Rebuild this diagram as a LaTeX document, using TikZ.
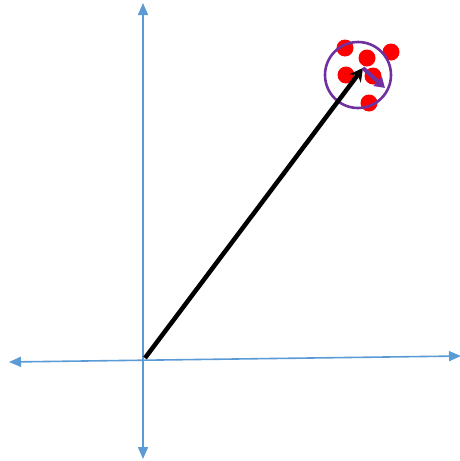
\documentclass[tikz,border=0pt]{standalone}
\usepackage{xcolor}
\usepackage{tikz}
\usetikzlibrary{arrows.meta}
\definecolor{axisblue}{HTML}{5B9BD5}
\definecolor{ringpurple}{HTML}{7030A0}
\begin{document}
\begin{tikzpicture}[x=1pt,y=-1pt,
  axisline/.style={draw=axisblue,line width=1.6pt,{Triangle[width=10pt,length=12pt]}-{Triangle[width=10pt,length=12pt]}},
  sample/.style={circle,fill=red,inner sep=0pt,minimum size=17pt}]
  \useasboundingbox (0,0) rectangle (460,461);
  % axes
  \coordinate (xl) at (9,362);
  \coordinate (xr) at (461,356);
  \coordinate (yt) at (143,3);
  \coordinate (yb) at (143,459);
  \coordinate (origin) at (145,358);
  \draw[axisline] (xl) -- (xr);
  \draw[axisline] (yt) -- (yb);
  % cluster of samples
  \node[sample] (s1) at (345,48) {};
  \node[sample] (s2) at (391,52) {};
  \node[sample] (s3) at (367,58) {};
  \node[sample] (s4) at (346,75) {};
  \node[sample] (s5) at (373,76) {};
  \node[sample] (s6) at (369,103) {};
  \node[draw=ringpurple,line width=2.6pt,circle,minimum size=66pt,inner sep=0pt] (ring) at (358,75) {};
  \coordinate (mean) at (363,68);
  \coordinate (shift) at (385,88);
  \draw[line width=4.5pt,-{Stealth[width=14pt,length=13pt]}] (origin) -- (mean);
  \draw[ringpurple,line width=4pt,-{Triangle[width=12pt,length=10pt]}] (mean) -- (shift);
\end{tikzpicture}
\end{document}
